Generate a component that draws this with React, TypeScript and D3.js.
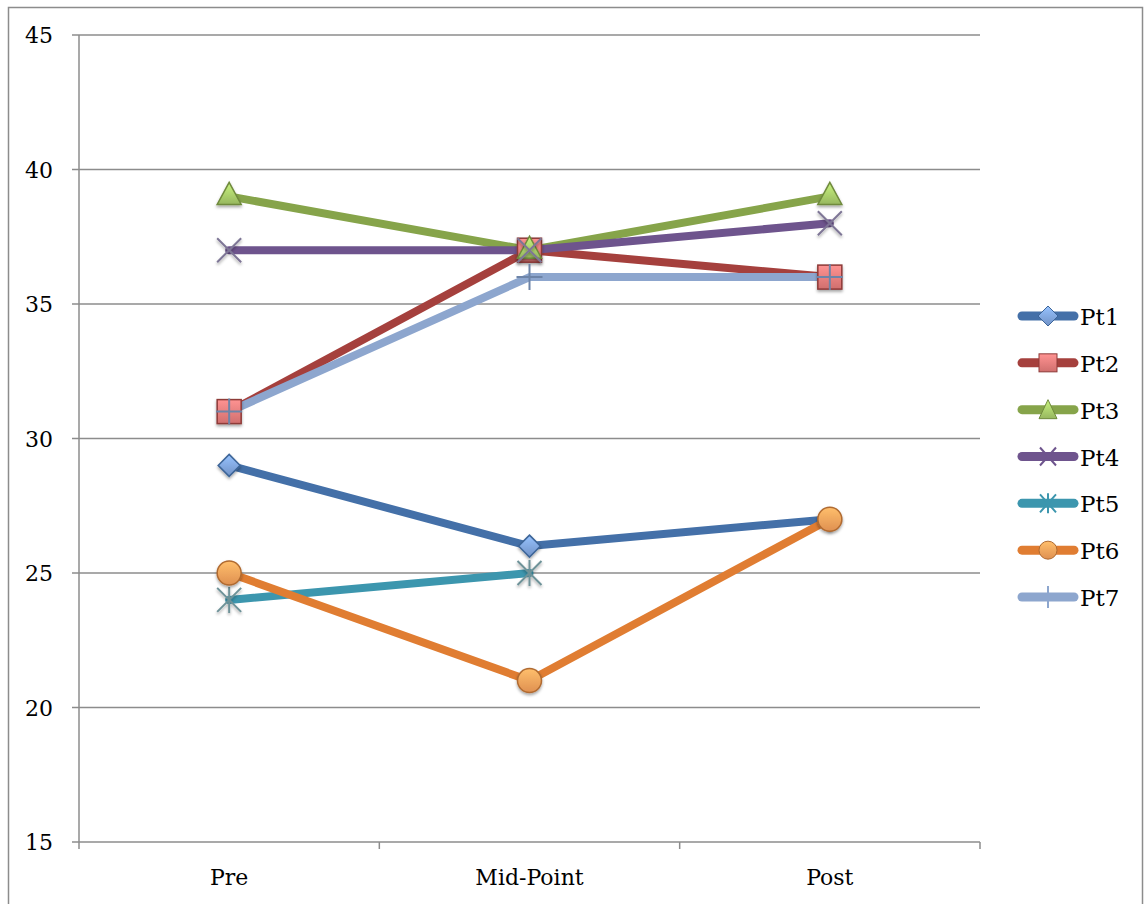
import React from "react";
import * as d3 from "d3";

const categories = ["Pre", "Mid-Point", "Post"];
const seriesNames = ["Pt1", "Pt2", "Pt3", "Pt4", "Pt5", "Pt6", "Pt7"];
const pt1 = [29, 26, 27];
const pt2 = [31, 37, 36];
const pt3 = [39, 37, 39];
const pt4 = [37, 37, 38];
const pt5: (number | null)[] = [24, 25, null];
const pt6 = [25, 21, 27];
const pt7 = [31, 36, 36];
const yTicks = [15, 20, 25, 30, 35, 40, 45];

const seriesValues: (number | null)[][] = [pt1, pt2, pt3, pt4, pt5, pt6, pt7];
const lineColors = ["#4470A8", "#A5403D", "#86A44A", "#6E548D", "#3C96AE", "#E07D32", "#8DA6CE"];
const fillColors = ["#7EA3DC", "#E87B7A", "#A8CC6A", "#8064A2", "#4BACC6", "#F8A05A", "#8DA6CE"];
const edgeColors = ["#3D6598", "#8E3A38", "#6F8A3C", "#7E7696", "#6E9298", "#B06A30", "#6D84A8"];
const markerTypes = ["diamond", "square", "triangle", "x", "star", "circle", "plus"];

const W = 1146;
const H = 904;
const left = 79;
const right = 980;
const top = 35;
const bottom = 842;
const FONT = "'DejaVu Serif', serif";

function Marker({ type, x, y, i }: { type: string; x: number; y: number; i: number }) {
  const fill = fillColors[i];
  const edge = edgeColors[i];
  const gradId = `grad${i}`;
  switch (type) {
    case "diamond":
      return (
        <path
          d={`M${x},${y - 11}L${x + 11},${y}L${x},${y + 11}L${x - 11},${y}Z`}
          fill={`url(#${gradId})`}
          stroke={edge}
          strokeWidth={1.5}
          filter="url(#shadow)"
        />
      );
    case "square":
      return (
        <rect x={x - 12} y={y - 12} width={24} height={24} fill={`url(#${gradId})`} stroke={edge} strokeWidth={1.5} filter="url(#shadow)" />
      );
    case "triangle":
      return (
        <path
          d={`M${x},${y - 14}L${x + 12},${y + 8}L${x - 12},${y + 8}Z`}
          fill={`url(#${gradId})`}
          stroke={edge}
          strokeWidth={1.5}
          filter="url(#shadow)"
        />
      );
    case "x":
      return (
        <path d={`M${x - 12},${y - 12}L${x + 12},${y + 12}M${x + 12},${y - 12}L${x - 12},${y + 12}`} stroke={edge} strokeWidth={2} filter="url(#shadow)" />
      );
    case "star":
      return (
        <path
          d={`M${x - 12},${y - 12}L${x + 12},${y + 12}M${x + 12},${y - 12}L${x - 12},${y + 12}M${x},${y - 13}L${x},${y + 13}`}
          stroke={edge}
          strokeWidth={2}
          filter="url(#shadow)"
        />
      );
    case "circle":
      return <circle cx={x} cy={y} r={12} fill={`url(#${gradId})`} stroke={edge} strokeWidth={1.5} filter="url(#shadow)" />;
    case "plus":
      return <path d={`M${x - 13},${y}L${x + 13},${y}M${x},${y - 13}L${x},${y + 13}`} stroke={edge} strokeWidth={2} />;
    default:
      return null;
  }
}

function LegendMarker({ type, x, y, i }: { type: string; x: number; y: number; i: number }) {
  const fill = fillColors[i];
  const edge = edgeColors[i];
  const gradId = `grad${i}`;
  switch (type) {
    case "diamond":
      return <path d={`M${x},${y - 10}L${x + 10},${y}L${x},${y + 10}L${x - 10},${y}Z`} fill={`url(#${gradId})`} stroke={edge} strokeWidth={1} />;
    case "square":
      return <rect x={x - 9} y={y - 9} width={18} height={18} fill={`url(#${gradId})`} stroke={edge} strokeWidth={1} />;
    case "triangle":
      return <path d={`M${x},${y - 10}L${x + 9},${y + 9}L${x - 9},${y + 9}Z`} fill={`url(#${gradId})`} stroke={edge} strokeWidth={1} />;
    case "x":
      return <path d={`M${x - 8},${y - 9}L${x + 8},${y + 9}M${x + 8},${y - 9}L${x - 8},${y + 9}`} stroke={lineColors[i]} strokeWidth={2} />;
    case "star":
      return (
        <path
          d={`M${x - 8},${y - 9}L${x + 8},${y + 9}M${x + 8},${y - 9}L${x - 8},${y + 9}M${x},${y - 10}L${x},${y + 10}`}
          stroke={lineColors[i]}
          strokeWidth={2}
        />
      );
    case "circle":
      return <circle cx={x} cy={y} r={9} fill={`url(#${gradId})`} stroke={edge} strokeWidth={1} />;
    case "plus":
      return <path d={`M${x},${y - 11}L${x},${y + 11}`} stroke={lineColors[i]} strokeWidth={2} />;
    default:
      return null;
  }
}

export default function App() {
  const x = d3.scalePoint<string>().domain(categories).range([left, right]).padding(0.5);
  const y = d3.scaleLinear().domain([15, 45]).range([bottom, top]);
  const step = x.step();
  const boundaries = d3.range(categories.length + 1).map((k) => left + k * step);

  const line = d3
    .line<{ c: string; v: number | null }>()
    .defined((d) => d.v !== null)
    .x((d) => x(d.c) as number)
    .y((d) => y(d.v as number));

  const legendY = d3.scaleLinear().domain([0, 6]).range([316, 597]);

  return (
    <svg
      width={W}
      height={H}
      style={{ position: "absolute", left: 0, top: 0, background: "#fff" }}
      fontFamily={FONT}
    >
      <defs>
        <filter id="shadow" x="-50%" y="-50%" width="200%" height="200%">
          <feDropShadow dx="0" dy="2" stdDeviation="1.5" floodColor="#000" floodOpacity="0.35" />
        </filter>
        {fillColors.map((c, i) => (
          <linearGradient id={`grad${i}`} key={i} x1="0" y1="0" x2="0" y2="1">
            <stop offset="0" stopColor={d3.color(c)!.brighter(0.5).formatHex()} />
            <stop offset="1" stopColor={d3.color(c)!.darker(0.3).formatHex()} />
          </linearGradient>
        ))}
      </defs>
      <rect x={8.5} y={7.5} width={1134} height={910} fill="#fff" stroke="#8c8c8c" strokeWidth={1.5} />

      {/* gridlines */}
      {yTicks.map((t) => (
        <g key={t}>
          <line x1={72} x2={right} y1={y(t)} y2={y(t)} stroke="#8c8c8c" strokeWidth={1.5} />
          <text x={53} y={y(t) + 8} textAnchor="end" fontSize={22} fill="#000">
            {t}
          </text>
        </g>
      ))}
      <line x1={left} x2={left} y1={top} y2={bottom + 7} stroke="#8c8c8c" strokeWidth={1.5} />
      {boundaries.slice(1).map((b, k) => (
        <line key={k} x1={b} x2={b} y1={bottom} y2={bottom + 7} stroke="#8c8c8c" strokeWidth={1.5} />
      ))}
      {categories.map((c) => (
        <text key={c} x={x(c)} y={885} textAnchor="middle" fontSize={22} fill="#000">
          {c}
        </text>
      ))}

      {/* lines */}
      {seriesValues.map((vals, i) => (
        <path
          key={`l${i}`}
          d={line(categories.map((c, k) => ({ c, v: vals[k] }))) || ""}
          fill="none"
          stroke={lineColors[i]}
          strokeWidth={8}
          strokeLinejoin="round"
          strokeLinecap="round"
        />
      ))}
      {/* markers drawn per series after its line */}
      {seriesValues.map((vals, i) => (
        <g key={`m${i}`}>
          {categories.map((c, k) =>
            vals[k] === null ? null : (
              <Marker key={k} type={markerTypes[i]} x={x(c) as number} y={y(vals[k] as number)} i={i} />
            )
          )}
        </g>
      ))}

      {/* legend */}
      {seriesNames.map((name, i) => {
        const ly = legendY(i);
        return (
          <g key={name}>
            <line x1={1022} x2={1074} y1={ly} y2={ly} stroke={lineColors[i]} strokeWidth={9} strokeLinecap="round" />
            <LegendMarker type={markerTypes[i]} x={1048} y={ly} i={i} />
            <text x={1080} y={ly + 9} fontSize={23} fill="#000">
              {name}
            </text>
          </g>
        );
      })}
    </svg>
  );
}
